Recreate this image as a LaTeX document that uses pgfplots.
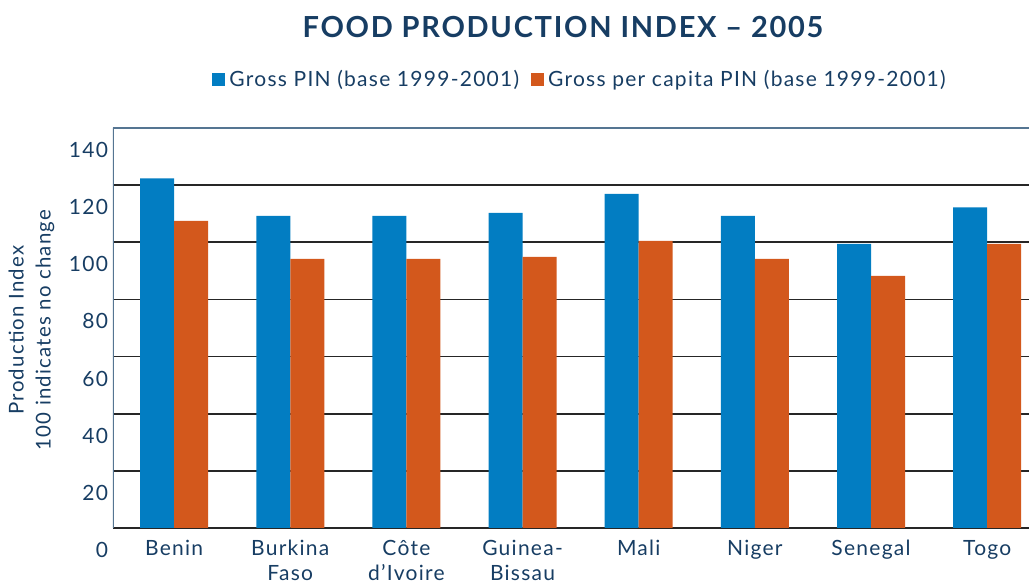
\documentclass[border=0pt]{standalone}
\usepackage{pgfplots}
\pgfplotsset{compat=1.18}
\usepackage{fontspec}
\setmainfont[LetterSpace=6]{Lato}
\definecolor{pinblue}{HTML}{027DC2}
\definecolor{pinorange}{HTML}{D3581C}
\definecolor{navy}{HTML}{173D63}
\definecolor{slate}{HTML}{557592}

\begin{document}
\begin{tikzpicture}
\useasboundingbox (0pt,0pt) rectangle (514.5pt,291.5pt);
\begin{axis}[
  at={(56.5pt,27.5pt)}, anchor=south west,
  scale only axis, width=458pt, height=200pt,
  ybar=0pt, bar width=17pt,
  xmin=-0.526, xmax=7.36, ymin=0, ymax=140,
  xtick={0,...,7},
  xticklabels={Benin, Burkina\\Faso, Côte\\d’Ivoire, Guinea-\\Bissau, Mali, Niger, Senegal, Togo},
  ytick={0,20,...,140},
  /pgf/number format/assume math mode=true,
  ymajorgrids,
  major grid style={line width=0.8pt, draw=black!85},
  axis line style={draw=none},
  major tick length=0pt,
  tick label style={font=\fontsize{10.5}{12.5}\selectfont, text=navy},
  xticklabel style={align=center, anchor=north, yshift=-2.5pt},
  yticklabel style={anchor=east, yshift=-11pt, xshift=1pt},
  legend columns=2,
  legend style={draw=none, fill=none, at={(0.511,1.12)}, anchor=center,
    font=\fontsize{10.5}{12}\selectfont, text=navy,
    /tikz/every even column/.append style={column sep=4pt}},
]
\addplot[fill=pinblue, draw=none,
  legend image code/.code={\fill[pinblue] (0pt,-3.25pt) rectangle (6.5pt,3.25pt);}]
  coordinates {(0,122.4) (1,109.2) (2,109.2) (3,110.3) (4,116.9) (5,109.2) (6,99.4) (7,112.2)};
\addplot[fill=pinorange, draw=none,
  legend image code/.code={\fill[pinorange] (0pt,-3.25pt) rectangle (6.5pt,3.25pt);}]
  coordinates {(0,107.5) (1,94.2) (2,94.2) (3,94.9) (4,100.5) (5,94.2) (6,88.2) (7,99.4)};
\legend{Gross PIN (base 1999-2001), Gross per capita PIN (base 1999-2001)}
\draw[slate, line width=1pt] (rel axis cs:0,0) -- (rel axis cs:0,1);
\draw[slate, line width=1pt] (rel axis cs:0,1) -- (rel axis cs:1,1);
\end{axis}
\node[font=\bfseries\fontsize{14.5}{16}\selectfont, text=navy] at (281.5pt,278pt) {FOOD PRODUCTION INDEX – 2005};
\node[rotate=90, align=center, font=\fontsize{10.2}{13.5}\selectfont, text=navy] at (15.75pt,126.5pt) {Production Index\\100 indicates no change};
\end{tikzpicture}
\end{document}
